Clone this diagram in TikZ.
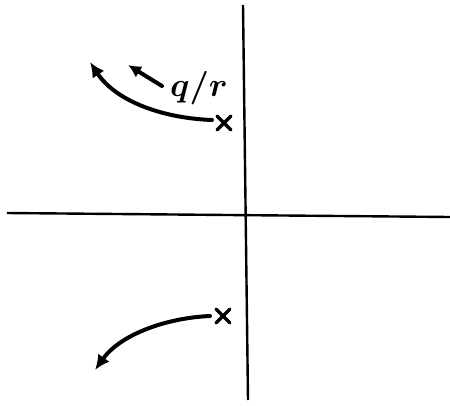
\documentclass[tikz,border=0pt]{standalone}
\usetikzlibrary{arrows.meta,calc}
\begin{document}
\begin{tikzpicture}[x=1pt,y=-1pt,
  axis/.style={line width=2.4pt,black},
  locus/.style={line width=4pt,black,line cap=round,-{Latex[length=15pt,width=14pt]}},
  pole/.style={inner sep=0pt,minimum size=0pt},
  polemark/.style={line width=3.2pt,line cap=round}]
\useasboundingbox (0,0) rectangle (450,405);
% axes
\coordinate (vt) at (243,5);
\coordinate (vb) at (248,400);
\coordinate (hl) at (7,213);
\coordinate (hr) at (450,217);
\draw[axis] (vt) -- (vb);
\draw[axis] (hl) -- (hr);
% poles
\node[pole] (p1) at (224,123) {};
\node[pole] (p2) at (223,316) {};
\foreach \p in {p1,p2}{
  \draw[polemark] ($(\p)+(-7,-7)$) -- ($(\p)+(7,7)$);
  \draw[polemark] ($(\p)+(-7,7)$) -- ($(\p)+(7,-7)$);
}
% loci
\coordinate (e1) at (90,62);
\coordinate (e2) at (95,370);
\draw[locus] (212,120) .. controls (160,118) and (115,100) .. (e1);
\draw[locus] (210,316) .. controls (165,318) and (120,335) .. (e2);
% direction arrow and label
\coordinate (d1) at (162,86);
\coordinate (d2) at (128,65);
\draw[line width=4pt,line cap=round,-{Latex[length=13pt,width=13pt]}] (d1) -- (d2);
\node[font=\Huge\boldmath,scale=1.35] (lab) at (199,88) {$q/r$};
\end{tikzpicture}
\end{document}
